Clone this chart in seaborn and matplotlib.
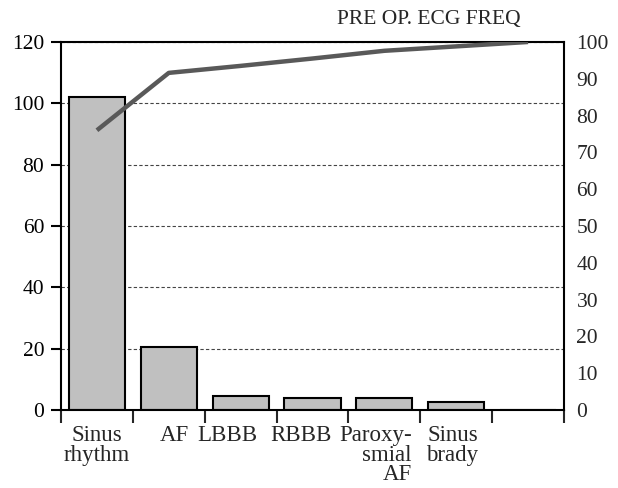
import numpy as np
import pandas as pd
import matplotlib
matplotlib.use('Agg')
import matplotlib.pyplot as plt
import matplotlib.transforms as mtransforms
import seaborn as sns

# values
categories = ['Sinus\nrhythm', 'AF', 'LBBB', 'RBBB', 'Paroxy-\nsmial\nAF', 'Sinus\nbrady', '']
counts = [102, 20.5, 4.6, 4, 4, 2.6, 0]
cum_pct = [76, 91.6, 93.5, 95.5, 97.6, 98.8, 100]
left_ticks = [0, 20, 40, 60, 80, 100, 120]
right_ticks = [0, 10, 20, 30, 40, 50, 60, 70, 80, 90, 100]

# small horizontal nudges (px) so the wrapped labels sit like the original
label_shift = [0, 6, -13, -12, -9, -4, 0]
label_align = ['center', 'center', 'center', 'center', 'right', 'right', 'center']

df = pd.DataFrame({'ecg': categories, 'count': counts})

sns.set_style('ticks')
plt.rcParams['font.family'] = ['Liberation Serif', 'DejaVu Serif']

fig = plt.figure(figsize=(6.18, 4.88), dpi=100)
ax = fig.add_axes([0.0987, 0.16, 0.8139, 0.754])

sns.barplot(
    data=df, x='ecg', y='count', order=categories,
    color='#c0c0c0', saturation=1, edgecolor='black', linewidth=1.5,
    width=0.78, ax=ax, zorder=2
)
ax.set_xlim(-0.5, len(categories) - 0.5)
ax.set_ylim(0, 120)
ax.set_yticks(left_ticks)
ax.set_xlabel('')
ax.set_ylabel('')
ax.set_axisbelow(True)
ax.yaxis.grid(True, linestyle=(0, (3, 2)), color='#444444', linewidth=0.8)

ax.tick_params(axis='y', direction='out', length=7, width=1.5, pad=5, labelsize=15.5, colors='black')
ax.tick_params(axis='x', which='major', length=0, pad=11, labelsize=16.5)
ax.set_xticks(np.arange(len(categories) + 1) - 0.5, minor=True)
ax.tick_params(axis='x', which='minor', direction='out', length=9, width=1.5, bottom=True)
for t, dx, al in zip(ax.get_xticklabels(), label_shift, label_align):
    t.set_linespacing(0.9)
    t.set_ha('center')
    t.set_multialignment(al)
    t.set_transform(t.get_transform() + mtransforms.Affine2D().translate(dx, 0))

for s in ax.spines.values():
    s.set_visible(True)
    s.set_color('black')
    s.set_linewidth(1.5)

# cumulative percentage on the secondary axis
ax2 = ax.twinx()
sns.lineplot(x=np.arange(len(categories)), y=cum_pct, ax=ax2,
             color='#595959', linewidth=3.2, solid_capstyle='butt')
ax2.set_ylim(0, 100)
ax2.set_yticks(right_ticks)
ax2.set_ylabel('')
ax2.tick_params(axis='y', length=0, pad=9, labelsize=15.5)
for s in ax2.spines.values():
    s.set_visible(False)

fig.text(0.694, 0.961, 'PRE OP. ECG FREQ', ha='center', va='center', fontsize=15.5)

fig.savefig('out.png', dpi=100)
